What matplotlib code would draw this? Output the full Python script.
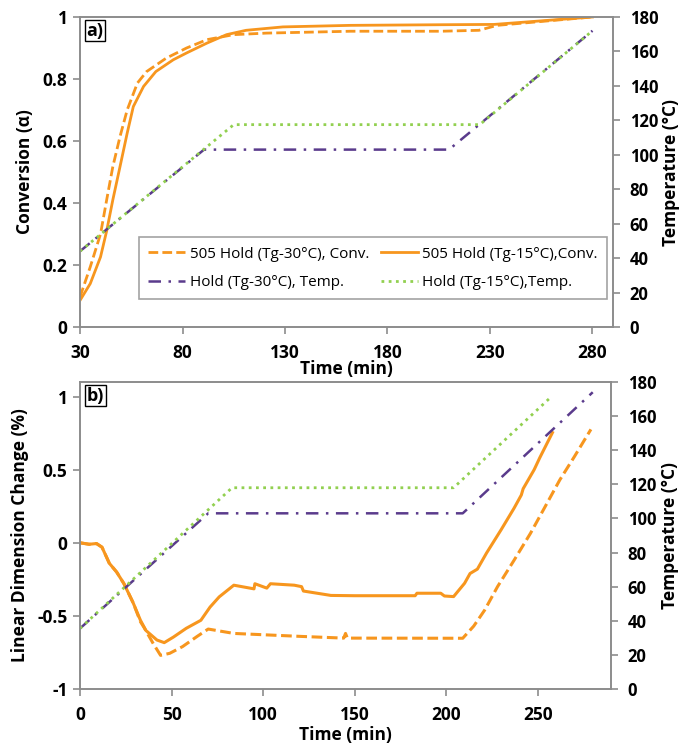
import matplotlib
matplotlib.use("Agg")
import matplotlib.pyplot as plt

plt.rcParams['font.family'] = ['Open Sans', 'DejaVu Sans']

# ---- donnees panneau a) : conversion et temperature ----
t_conv15_a = [30, 35, 40, 43, 46, 49.5, 53, 56, 61, 67, 75.5, 82, 92, 101.5, 111, 129, 162, 206, 232, 280]
conv15_a = [0.086, 0.14, 0.226, 0.31, 0.41, 0.517, 0.625, 0.711, 0.776, 0.824, 0.862, 0.884, 0.916,
            0.943, 0.957, 0.968, 0.973, 0.975, 0.976, 1.0]
t_conv30_a = [30, 35, 40, 43, 46, 49.5, 53, 58, 62.5, 72, 82, 92, 105, 121, 162, 206, 224.6, 233.5, 280]
conv30_a = [0.097, 0.194, 0.30, 0.41, 0.517, 0.614, 0.70, 0.787, 0.824, 0.867, 0.9, 0.927, 0.943,
            0.948, 0.954, 0.954, 0.957, 0.973, 1.0]
t_temp30_a = [30, 90.5, 210, 280]
temp30_a = [44, 103, 103, 172]
t_temp15_a = [30, 105, 225, 280]
temp15_a = [44, 117.5, 117.5, 172]

# ---- donnees panneau b) : variation dimensionnelle et temperature ----
t_ldc15_b = [0, 5, 9, 12, 16, 20, 24, 29, 33, 36, 42, 46, 51, 58, 66, 71, 76, 84, 95, 95.5, 102, 104,
             117, 121, 122, 137, 150, 183, 184, 197, 199, 204, 210, 213, 217, 222, 230, 237, 241, 242,
             248, 251, 258]
ldc15_b = [0, -0.01, -0.005, -0.03, -0.14, -0.2, -0.28, -0.41, -0.53, -0.6, -0.665, -0.683, -0.645,
           -0.585, -0.53, -0.44, -0.37, -0.29, -0.315, -0.28, -0.31, -0.28, -0.29, -0.30, -0.33, -0.36,
           -0.362, -0.362, -0.345, -0.345, -0.364, -0.368, -0.277, -0.21, -0.18, -0.07, 0.09, 0.236,
           0.327, 0.37, 0.5, 0.58, 0.754]
t_ldc30_b = [0, 5, 9, 12, 16, 20, 24, 29, 33, 35, 40, 44, 49, 56, 64, 70, 84, 102, 120, 144, 145, 146,
             209, 215, 221, 228, 237, 246, 255, 262, 270, 279]
ldc30_b = [0, -0.01, -0.005, -0.03, -0.14, -0.2, -0.28, -0.41, -0.54, -0.58, -0.69, -0.77, -0.756,
           -0.71, -0.64, -0.59, -0.62, -0.63, -0.64, -0.652, -0.62, -0.652, -0.653, -0.57, -0.46, -0.30,
           -0.12, 0.065, 0.27, 0.43, 0.59, 0.776]
t_temp30_b = [0, 70, 209, 280]
temp30_b = [35.5, 103, 103, 174]
t_temp15_b = [0, 83, 204, 257]
temp15_b = [35.5, 118, 118, 171]

orange = '#F7961E'
violet = '#5A3B8C'
vert = '#92D050'
gris = '#8C8C8C'

fig = plt.figure(figsize=(6.91, 7.48), dpi=100)
ax1 = fig.add_axes([0.1158, 0.5628, 0.7713, 0.4145])
ax3 = fig.add_axes([0.1158, 0.0789, 0.7685, 0.4104])


def style_axes(ax, ax2):
    for a in (ax, ax2):
        for s in a.spines.values():
            s.set_color(gris)
            s.set_linewidth(1.2)
        a.tick_params(direction='out', length=5, width=1.2, color=gris, labelsize=12.5, pad=4)
        for lab in a.get_xticklabels() + a.get_yticklabels():
            lab.set_fontweight('bold')
    ax.tick_params(axis='x', pad=7)
    ax2.tick_params(axis='y', pad=7, labelsize=12)


# --- a) ---
ax2 = ax1.twinx()
l1, = ax1.plot(t_conv30_a, conv30_a, color=orange, lw=2, ls=(0, (3.5, 1.5)),
               label='505 Hold (Tg-30°C), Conv.')
l2, = ax1.plot(t_conv15_a, conv15_a, color=orange, lw=2, label='505 Hold (Tg-15°C),Conv.')
l3, = ax2.plot(t_temp30_a, temp30_a, color=violet, lw=1.8, ls=(0, (5, 3, 1, 3)),
               label='Hold (Tg-30°C), Temp.')
l4, = ax2.plot(t_temp15_a, temp15_a, color=vert, lw=2, ls=(0, (1, 1.6)),
               label='Hold (Tg-15°C),Temp.')
ax1.set_xlim(30, 290)
ax1.set_ylim(0, 1)
ax2.set_ylim(0, 180)
ax1.set_xticks([30, 80, 130, 180, 230, 280])
ax1.set_yticks([0, 0.2, 0.4, 0.6, 0.8, 1])
ax1.set_yticklabels(['0', '0.2', '0.4', '0.6', '0.8', '1'])
ax2.set_yticks(range(0, 181, 20))
ax1.set_xlabel('Time (min)', fontsize=12.5, fontweight='bold', labelpad=-1)
ax1.set_ylabel('Conversion (α)', fontsize=12.5, fontweight='bold', labelpad=6)
ax2.set_ylabel('Temperature (°C)', fontsize=12.5, fontweight='bold', labelpad=3)
style_axes(ax1, ax2)
ax1.text(0.012, 0.985, 'a)', transform=ax1.transAxes, fontsize=13, fontweight='bold',
         va='top', ha='left',
         bbox=dict(boxstyle='square,pad=0.1', fc='white', ec='black', lw=1))
leg = ax1.legend([l1, l3, l2, l4], [l1.get_label(), l3.get_label(), l2.get_label(), l4.get_label()],
                 ncol=2, loc='center', bbox_to_anchor=(0.55, 0.189),
                 fontsize=11, handlelength=2.4, handletextpad=0.3, columnspacing=0.8,
                 fancybox=False, edgecolor=gris, borderpad=0.6, labelspacing=0.9)
leg.get_frame().set_linewidth(1.2)

# --- b) ---
ax4 = ax3.twinx()
ax3.plot(t_ldc30_b, ldc30_b, color=orange, lw=2.2, ls=(0, (3.5, 1.5)))
ax3.plot(t_ldc15_b, ldc15_b, color=orange, lw=2.2)
ax4.plot(t_temp30_b, temp30_b, color=violet, lw=1.8, ls=(0, (5, 3, 1, 3)))
ax4.plot(t_temp15_b, temp15_b, color=vert, lw=2, ls=(0, (1, 1.6)))
ax3.set_xlim(0, 290)
ax3.set_ylim(-1, 1.1)
ax4.set_ylim(0, 180)
ax3.set_xticks([0, 50, 100, 150, 200, 250])
ax3.set_yticks([-1, -0.5, 0, 0.5, 1])
ax3.set_yticklabels(['-1', '-0.5', '0', '0.5', '1'])
ax4.set_yticks(range(0, 181, 20))
ax3.set_xlabel('Time (min)', fontsize=12.5, fontweight='bold', labelpad=2)
ax3.set_ylabel('Linear Dimension Change (%)', fontsize=12.5, fontweight='bold', labelpad=6)
ax4.set_ylabel('Temperature (°C)', fontsize=12.5, fontweight='bold', labelpad=3)
style_axes(ax3, ax4)
ax3.text(0.012, 0.985, 'b)', transform=ax3.transAxes, fontsize=13, fontweight='bold',
         va='top', ha='left',
         bbox=dict(boxstyle='square,pad=0.1', fc='white', ec='black', lw=1))

fig.savefig('out.png', dpi=100)
